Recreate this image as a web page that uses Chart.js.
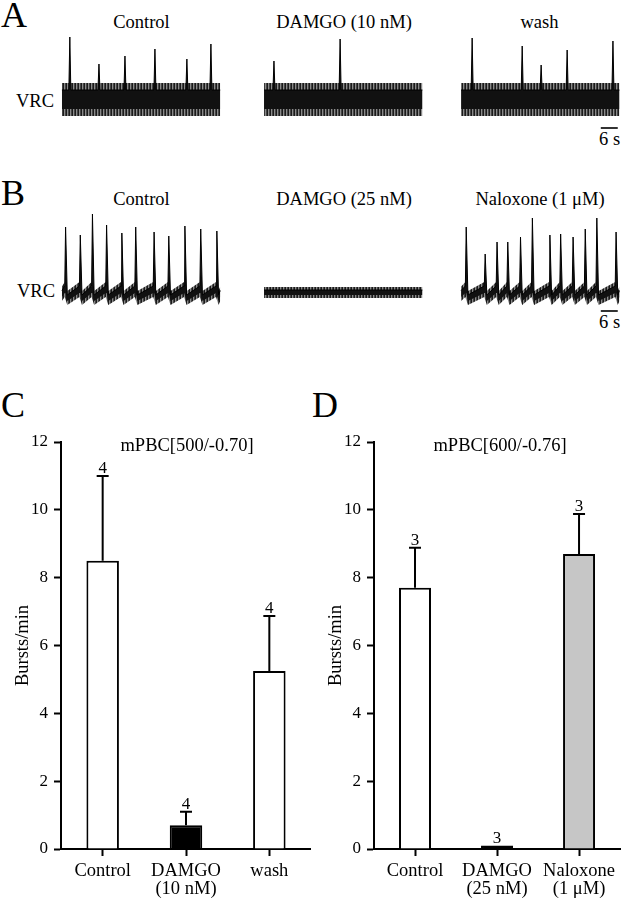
<!DOCTYPE html>
<html><head><meta charset="utf-8">
<script src="https://cdn.jsdelivr.net/npm/chart.js@4/dist/chart.umd.min.js"></script>
<style>
body{margin:0;background:#fff;width:622px;height:900px;position:relative;overflow:hidden;font-family:"Liberation Serif","Tinos","Noto Serif","DejaVu Serif",serif;}
.t{position:absolute;white-space:nowrap;color:#000;line-height:1;font-size:18.5px;}
.c{transform:translateX(-50%);}
.L{font-size:36px;}
canvas{position:absolute;}
</style></head><body>
<div class="t L" style="left:1px;top:-3px">A</div>
<div class="t c" style="left:141.5px;top:12.5px">Control</div>
<div class="t c" style="left:344px;top:12.5px">DAMGO (10 nM)</div>
<div class="t c" style="left:539.5px;top:12.5px">wash</div>
<div class="t" style="left:16px;top:91.5px">VRC</div>
<div class="t" style="left:599px;top:129.5px">6 s</div>

<div class="t L" style="left:1px;top:175px">B</div>
<div class="t c" style="left:141.5px;top:189.5px">Control</div>
<div class="t c" style="left:344px;top:189.5px">DAMGO (25 nM)</div>
<div class="t c" style="left:540px;top:189.5px">Naloxone (1 μM)</div>
<div class="t" style="left:17px;top:281.5px">VRC</div>
<div class="t" style="left:599px;top:312.5px">6 s</div>

<div class="t L" style="left:1px;top:387px">C</div>
<div class="t L" style="left:312px;top:387px">D</div>

<canvas id="ca" width="622" height="120" style="left:0;top:30px"></canvas>
<canvas id="cb" width="622" height="130" style="left:0;top:200px"></canvas>
<canvas id="cc" width="311" height="510" style="left:0;top:390px"></canvas>
<canvas id="cd" width="311" height="510" style="left:311px;top:390px"></canvas>
<script>
// ---------- DATA ----------
// Traces: time (s) of each burst from trace start, and burst peak height (a.u., above baseline)
const TRACE_LEN_S = 56;
const SCALE_BAR_S = 6;
const TRACE_START_S = [21.9, 93.4, 163.1];   // Control / drug / recovery column start on shared time axis

const A_CTRL_T  = [2.8, 13.1, 22.3, 32.9, 44.2, 52.7];
const A_CTRL_H  = [63, 36, 44, 51, 41, 56];
const A_DAMGO_T = [3.5, 26.9];
const A_DAMGO_H = [39, 61];
const A_WASH_T  = [3.9, 21.6, 28.3, 37.5, 53.7];
const A_WASH_H  = [62, 54, 35, 50, 59];

const B_CTRL_T  = [1.3, 6.5, 10.8, 15.8, 21.2, 26.1, 32.6, 37.8, 43.5, 49.1, 54.8];
const B_CTRL_H  = [66, 58, 79, 68, 60, 66, 61, 57, 67, 64, 62];
const B_DAMGO_T = [];
const B_DAMGO_H = [];
const B_NAL_T   = [1.8, 8.5, 12.7, 16.5, 21.0, 25.2, 31.4, 35.2, 39.6, 43.9, 48.0, 54.8];
const B_NAL_H   = [66, 39, 51, 51, 56, 75, 58, 59, 56, 64, 75, 61];

// Bar charts
const C_CATEGORIES = [['Control'], ['DAMGO', '(10 nM)'], ['wash']];
const C_MEAN       = [8.5, 0.7, 5.25];
const C_ERR_TOP    = [11.0, 1.1, 6.87];
const C_N          = [4, 4, 4];
const C_TITLE      = 'mPBC[500/-0.70]';

const D_CATEGORIES = [['Control'], ['DAMGO', '(25 nM)'], ['Naloxone', '(1 μM)']];
const D_MEAN       = [7.7, 0.1, 8.7];
const D_ERR_TOP    = [8.88, 0.1, 9.88];
const D_N          = [3, 3, 3];
const D_TITLE      = 'mPBC[600/-0.76]';

const Y_TICKS = [0, 2, 4, 6, 8, 10, 12];
const Y_LABEL = 'Bursts/min';

// ---------- STYLE ----------
const SERIF = '"Liberation Serif", "Tinos", "Noto Serif", "DejaVu Serif", serif';
Chart.defaults.font.family = SERIF;
Chart.defaults.color = '#000';

// hatched fringe pattern to mimic dense noise
function fringePattern() {
  const p = document.createElement('canvas');
  p.width = 3; p.height = 1;
  const g = p.getContext('2d');
  g.fillStyle = '#1a1a1a'; g.fillRect(0, 0, 1, 1);
  g.fillStyle = '#8a8a8a'; g.fillRect(1, 0, 1, 1);
  g.fillStyle = '#444'; g.fillRect(2, 0, 1, 1);
  return g.createPattern(p, 'repeat');
}
const FRINGE = fringePattern();

function envelope(start, spT, spH, lv, rise, fall, grow, withSpikes) {
  const up = [], lo = [];
  const add = (t, u, l) => { up.push({x: start + t, y: u + grow}); lo.push({x: start + t, y: l - grow}); };
  add(0, (lv.postTop + lv.preTop) / 2, (lv.postBot + lv.preBot) / 2);
  spT.forEach((t, i) => {
    add(t - rise, lv.preTop, lv.preBot);
    if (withSpikes) { up.push({x: start + t, y: spH[i]}); lo.push({x: start + t, y: lv.preBot - grow}); }
    add(t + fall, lv.postTop, lv.postBot);
  });
  add(TRACE_LEN_S, (lv.postTop + lv.preTop) / 2, (lv.postBot + lv.preBot) / 2);
  return {up, lo};
}
function traceDatasets(start, spT, spH, lv, rise, fall, fringe) {
  const inner = envelope(start, spT, spH, lv, rise, fall, 0, true);
  const outer = envelope(start, spT, spH, lv, rise, fall, fringe, false);
  const base = {pointRadius: 0, tension: 0, showLine: true};
  return [
    Object.assign({data: outer.up, borderWidth: 0, borderColor: 'rgba(0,0,0,0)', fill: false, order: 2}, base),
    Object.assign({data: outer.lo, borderWidth: 0, borderColor: 'rgba(0,0,0,0)', fill: '-1', backgroundColor: FRINGE, order: 2}, base),
    Object.assign({data: inner.up, borderWidth: 1, borderColor: '#000', fill: false, order: 1}, base),
    Object.assign({data: inner.lo, borderWidth: 0, borderColor: 'rgba(0,0,0,0)', fill: '-1', backgroundColor: '#111', order: 1}, base),
  ];
}
function traceChart(id, ymin, ymax, sets, barY) {
  const ds = [];
  sets.forEach(s => ds.push(...s));
  ds.push({data: [{x: 212.5, y: barY}, {x: 212.5 + SCALE_BAR_S, y: barY}], borderColor: '#000', borderWidth: 1.6, pointRadius: 0, fill: false, order: 0});
  return new Chart(document.getElementById(id), {
    type: 'line',
    data: {datasets: ds},
    options: {
      responsive: false, animation: false, devicePixelRatio: 1,
      layout: {padding: 0},
      plugins: {legend: {display: false}, tooltip: {enabled: false}},
      scales: {
        x: {type: 'linear', min: 0, max: 220, display: false},
        y: {type: 'linear', min: ymin, max: ymax, display: false}
      }
    }
  });
}

const LV_A = {postTop: 10, postBot: -9, preTop: 10, preBot: -9};
const LV_B = {postTop: -2, postBot: -8, preTop: 7, preBot: 0};
const LV_B_FLAT = {postTop: 3, postBot: -2, preTop: 3, preBot: -2};

traceChart('ca', -50, 70, [
  traceDatasets(TRACE_START_S[0], A_CTRL_T, A_CTRL_H, LV_A, 0.35, 0.35, 7),
  traceDatasets(TRACE_START_S[1], A_DAMGO_T, A_DAMGO_H, LV_A, 0.35, 0.35, 7),
  traceDatasets(TRACE_START_S[2], A_WASH_T, A_WASH_H, LV_A, 0.35, 0.35, 7),
], -28);
traceChart('cb', -37, 93, [
  traceDatasets(TRACE_START_S[0], B_CTRL_T, B_CTRL_H, LV_B, 0.3, 0.6, 4),
  traceDatasets(TRACE_START_S[1], B_DAMGO_T, B_DAMGO_H, LV_B_FLAT, 0.3, 0.6, 3),
  traceDatasets(TRACE_START_S[2], B_NAL_T, B_NAL_H, LV_B, 0.3, 0.6, 4),
], -18);

// ---------- BAR PANELS ----------
const errPlugin = {
  id: 'errBars',
  afterDatasetsDraw(chart, args, opts) {
    const ctx = chart.ctx, y = chart.scales.y, meta = chart.getDatasetMeta(0);
    const vals = chart.data.datasets[0].data;
    ctx.save();
    ctx.strokeStyle = '#000'; ctx.fillStyle = '#000'; ctx.lineWidth = 2;
    ctx.font = '17px ' + SERIF; ctx.textAlign = 'center'; ctx.textBaseline = 'alphabetic';
    meta.data.forEach((bar, i) => {
      const yt = y.getPixelForValue(opts.errTop[i]);
      const yb = y.getPixelForValue(vals[i]);
      if (yb - yt > 0.5) {
        ctx.beginPath();
        ctx.moveTo(bar.x, yb); ctx.lineTo(bar.x, yt);
        ctx.moveTo(bar.x - 6, yt); ctx.lineTo(bar.x + 6, yt);
        ctx.stroke();
      }
      ctx.fillText(String(opts.n[i]), bar.x, yt - 3);
    });
    ctx.restore();
  }
};
const titlePlugin = {
  id: 'panelTitle',
  afterDraw(chart, args, opts) {
    const ctx = chart.ctx, a = chart.chartArea;
    ctx.save();
    ctx.font = '18.5px ' + SERIF; ctx.fillStyle = '#000'; ctx.textAlign = 'center'; ctx.textBaseline = 'alphabetic';
    ctx.fillText(opts.text, (a.left + a.right) / 2 + opts.dx, a.top + 9);
    ctx.restore();
  }
};
function barChart(id, cats, mean, errTop, n, colors, title, yWidth, titlePad, dx) {
  return new Chart(document.getElementById(id), {
    type: 'bar',
    data: {labels: cats, datasets: [{data: mean, backgroundColor: colors, borderColor: '#000', borderWidth: 2,
      borderSkipped: 'start', categoryPercentage: 1, barPercentage: 0.39}]},
    options: {
      responsive: false, animation: false, devicePixelRatio: 1,
      layout: {padding: {top: 52, left: 0, right: 0, bottom: 0}},
      plugins: {legend: {display: false}, tooltip: {enabled: false},
        errBars: {errTop, n}, panelTitle: {text: title, dx}},
      scales: {
        x: {type: 'category', offset: true,
          grid: {display: true, offset: false, drawOnChartArea: false, drawTicks: true, tickLength: 7, tickWidth: 2, tickColor: '#000'},
          border: {display: true, color: '#000', width: 2},
          ticks: {color: '#000', font: {family: SERIF, size: 18.5, lineHeight: 0.93}, padding: 7, maxRotation: 0, autoSkip: false},
          afterFit: s => { s.height = 51; }},
        y: {type: 'linear', min: 0, max: 12,
          afterBuildTicks: s => { s.ticks = Y_TICKS.map(v => ({value: v})); },
          ticks: {color: '#000', font: {family: SERIF, size: 17}, padding: 6},
          grid: {display: true, drawOnChartArea: false, drawTicks: true, tickLength: 7, tickWidth: 2, tickColor: '#000'},
          border: {display: true, color: '#000', width: 2},
          title: {display: true, text: Y_LABEL, color: '#000', font: {family: SERIF, size: 18.5}, padding: {top: titlePad, bottom: 0}},
          afterFit: s => { s.width = yWidth; }}
      }
    },
    plugins: [errPlugin, titlePlugin]
  });
}
barChart('cc', C_CATEGORIES, C_MEAN, C_ERR_TOP, C_N, ['#fff', '#000', '#fff'], C_TITLE, 61, 12, 1);
barChart('cd', D_CATEGORIES, D_MEAN, D_ERR_TOP, D_N, ['#fff', '#000', '#c6c6c6'], D_TITLE, 63, 14, 3);
</script>
</body></html>
